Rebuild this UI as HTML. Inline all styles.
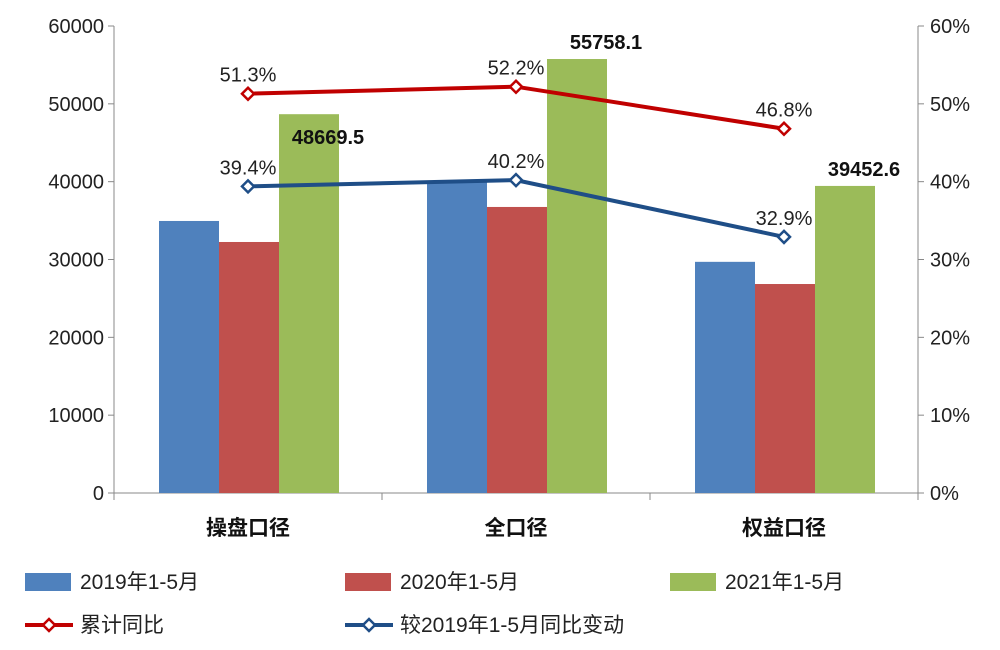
<!DOCTYPE html>
<html><head><meta charset="utf-8"><style>
body{margin:0;background:#fff;}
svg text{font-family:"Liberation Sans","Noto Sans CJK SC",sans-serif;}
</style></head><body>
<svg id="c" width="1000" height="645" xmlns="http://www.w3.org/2000/svg"></svg>
<script>
const categories=["操盘口径","全口径","权益口径"];
const s2019=[34950,40100,29700];
const s2020=[32250,36750,26850];
const s2021=[48669.5,55758.1,39452.6];
const cumYoY=[51.3,52.2,46.8];
const vs2019=[39.4,40.2,32.9];
const leftTicks=[0,10000,20000,30000,40000,50000,60000];
const rightTicks=[0,10,20,30,40,50,60];
const NS="http://www.w3.org/2000/svg";
const svg=document.getElementById('c');
const X0=114,X1=918,Y0=493,Y1=26;
const yL=v=>Y0-(v/60000)*(Y0-Y1);
const yR=v=>Y0-(v/60)*(Y0-Y1);
const gw=(X1-X0)/categories.length;
const cx=i=>X0+gw*(i+0.5);
const labDy=[30,-10,-10], labDx=[-10,0,-10];
function el(t,a,txt){const e=document.createElementNS(NS,t);for(const k in a)e.setAttribute(k,a[k]);if(txt!==undefined)e.textContent=txt;svg.appendChild(e);return e;}
let ax=el('line',{x1:X0,y1:Y1,x2:X0,y2:Y0,stroke:'#888'});

ax=el('line',{x1:X1,y1:Y1,x2:X1,y2:Y0,stroke:'#888'});

ax=el('line',{x1:X0,y1:Y0,x2:X1,y2:Y0,stroke:'#888'});

leftTicks.forEach(v=>{const y=yL(v);el('line',{x1:X0-6,y1:y,x2:X0,y2:y,stroke:'#888'});
const t=el('text',{x:X0-10,y:y+7,'text-anchor':'end','font-size':20,fill:'#222'},String(v));
});
rightTicks.forEach(v=>{const y=yR(v);el('line',{x1:X1,y1:y,x2:X1+6,y2:y,stroke:'#888'});
const t=el('text',{x:X1+12,y:y+7,'font-size':20,fill:'#222'},v+'%');
});
for(let i=0;i<=categories.length;i++){const x=X0+gw*i;el('line',{x1:x,y1:Y0,x2:x,y2:Y0+7,stroke:'#888'});}
const series=[[s2019,'#4f81bd'],[s2020,'#c0504d'],[s2021,'#9bbb59']];
const bw=60;
categories.forEach((c,i)=>{
 series.forEach((s,j)=>{const v=s[0][i];const x=cx(i)-89+j*bw;
  const r=el('rect',{x:x,y:yL(v),width:bw,height:Y0-yL(v),fill:s[1]});
  });
 const t=el('text',{x:cx(i),y:535,'text-anchor':'middle','font-size':21,'font-weight':'bold',fill:'#111'},c);
 
 const l=el('text',{x:cx(i)+90+labDx[i],y:yL(s2021[i])+labDy[i],'text-anchor':'middle','font-size':20,'font-weight':'bold',fill:'#111'},String(s2021[i]));
 
});
[[cumYoY,'#c00000','cum-yoy'],[vs2019,'#1f4e87','vs-2019']].forEach(([d,col,n])=>{
 const p=el('polyline',{points:d.map((v,i)=>cx(i)+','+yR(v)).join(' '),fill:'none',stroke:col,'stroke-width':4});
 
 d.forEach((v,i)=>{const x=cx(i),y=yR(v);
  const m=el('polygon',{points:`${x},${y-6} ${x+6},${y} ${x},${y+6} ${x-6},${y}`,fill:'#fff',stroke:col,'stroke-width':2.5});
  
  const t=el('text',{x:x,y:y-12,'text-anchor':'middle','font-size':20,fill:'#222'},v.toFixed(1)+'%');
  });
});
const leg=[[25,582,'#4f81bd','2019年1-5月','r'],[345,582,'#c0504d','2020年1-5月','r'],[670,582,'#9bbb59','2021年1-5月','r'],[25,625,'#c00000','累计同比','l'],[345,625,'#1f4e87','较2019年1-5月同比变动','l']];
leg.forEach(([x,y,c,txt,k])=>{
 if(k==='r'){const r=el('rect',{x:x,y:y-9,width:46,height:18,fill:c});}
 else{el('line',{x1:x,y1:y,x2:x+48,y2:y,stroke:c,'stroke-width':4});
  const m=el('polygon',{points:`${x+24},${y-6} ${x+30},${y} ${x+24},${y+6} ${x+18},${y}`,fill:'#fff',stroke:c,'stroke-width':2.5});
  }
 const t=el('text',{x:x+55,y:y+7,'font-size':21,fill:'#222'},txt);
 
});
</script>
</body></html>
